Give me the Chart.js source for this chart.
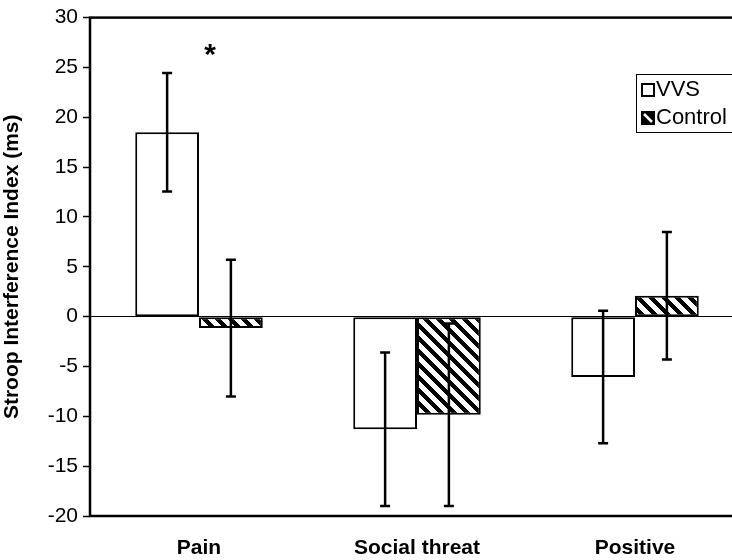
<!DOCTYPE html>
<html>
<head>
<meta charset="utf-8">
<script src="https://cdn.jsdelivr.net/npm/chart.js@4.4.0/dist/chart.umd.min.js"></script>
<style>
  html, body { margin: 0; padding: 0; overflow: hidden; background: #fff; }
  #wrap { width: 760px; height: 560px; }
</style>
</head>
<body>
<div id="wrap"><canvas id="stroopCanvas" width="760" height="560"></canvas></div>
<script>
const categories = ["Pain", "Social threat", "Positive"];
const vvsValues = [18.5, -11.3, -6.05];
const vvsErrors = [5.95, 7.7, 6.65];
const controlValues = [-1.15, -9.85, 2.1];
const controlErrors = [6.85, 9.15, 6.4];
const yTicks = [30, 25, 20, 15, 10, 5, 0, -5, -10, -15, -20];
const seriesNames = ["VVS", "Control"];

const FONT = "'Liberation Sans', Arial, sans-serif";

// diagonal hatch for the control bars
function makeHatch() {
    const s = 13, t = 6;
    const c = document.createElement("canvas");
    c.width = s; c.height = s;
    const g = c.getContext("2d");
    g.fillStyle = "#fff";
    g.fillRect(0, 0, s, s);
    g.fillStyle = "#000";
    for (let y = 0; y < s; y++) {
        for (let x = 0; x < s; x++) {
            if (((x - y) % s + s) % s < t) g.fillRect(x, y, 1, 1);
        }
    }
    return document.getElementById("stroopCanvas").getContext("2d").createPattern(c, "repeat");
}
const hatch = makeHatch();

const errorBars = {
    id: "errorBars",
    afterDatasetsDraw(chart) {
        const ctx = chart.ctx;
        const yScale = chart.scales.y;
        ctx.save();
        ctx.strokeStyle = "#000";
        ctx.lineWidth = 2.5;
        chart.data.datasets.forEach((ds, i) => {
            const meta = chart.getDatasetMeta(i);
            meta.data.forEach((bar, j) => {
                const v = ds.data[j], e = ds.errors[j];
                const top = yScale.getPixelForValue(v + e);
                const bot = yScale.getPixelForValue(v - e);
                const x = bar.x;
                ctx.beginPath();
                ctx.moveTo(x, top); ctx.lineTo(x, bot);
                ctx.moveTo(x - 5, top); ctx.lineTo(x + 5, top);
                ctx.moveTo(x - 5, bot); ctx.lineTo(x + 5, bot);
                ctx.stroke();
            });
        });
        ctx.restore();
    }
};

const frameAndLegend = {
    id: "frameAndLegend",
    afterDraw(chart) {
        const ctx = chart.ctx;
        const a = chart.chartArea;
        ctx.save();
        // plot frame
        ctx.strokeStyle = "#000";
        ctx.lineWidth = 2.5;
        ctx.strokeRect(a.left, a.top, a.right - a.left, a.bottom - a.top);

        // significance star
        const xs = chart.scales.x, ys = chart.scales.y;
        ctx.fillStyle = "#000";
        ctx.font = "bold 30px " + FONT;
        ctx.textAlign = "center";
        ctx.textBaseline = "middle";
        ctx.fillText("*", xs.getPixelForValue(0) + 11, ys.getPixelForValue(26.2));

        // legend
        const lx = a.right - 108, ly = 74;
        ctx.lineWidth = 1;
        ctx.strokeRect(lx + 0.5, ly + 0.5, 140, 58);
        ctx.font = "22px " + FONT;
        ctx.textAlign = "left";
        ctx.textBaseline = "middle";
        // VVS icon
        ctx.fillStyle = "#fff";
        ctx.fillRect(lx + 6, ly + 10, 12, 12);
        ctx.lineWidth = 2;
        ctx.strokeRect(lx + 6, ly + 10, 12, 12);
        ctx.fillStyle = "#000";
        ctx.fillText(seriesNames[0], lx + 20, ly + 16);
        // Control icon
        ctx.fillRect(lx + 5, ly + 37, 14, 14);
        ctx.strokeStyle = "#fff";
        ctx.lineWidth = 2.5;
        ctx.beginPath();
        ctx.moveTo(lx + 8, ly + 40);
        ctx.lineTo(lx + 16, ly + 48);
        ctx.stroke();
        ctx.fillText(seriesNames[1], lx + 20, ly + 44);
        ctx.restore();
    }
};

new Chart(document.getElementById("stroopCanvas"), {
    type: "bar",
    data: {
        labels: categories,
        datasets: [
            {
                label: seriesNames[0],
                data: vvsValues,
                errors: vvsErrors,
                backgroundColor: "#fff",
                borderColor: "#000",
                borderWidth: 2,
                borderSkipped: false
            },
            {
                label: seriesNames[1],
                data: controlValues,
                errors: controlErrors,
                backgroundColor: hatch,
                borderColor: "#000",
                borderWidth: 2,
                borderSkipped: false
            }
        ]
    },
    options: {
        responsive: false,
        animation: false,
        layout: { padding: { top: 16, right: 16, left: 0, bottom: 0 } },
        categoryPercentage: 0.585,
        barPercentage: 1,
        plugins: {
            legend: { display: false },
            tooltip: { enabled: false }
        },
        scales: {
            x: {
                grid: { display: false, drawTicks: false },
                border: { display: false },
                ticks: {
                    color: "#000",
                    padding: 20,
                    font: { family: FONT, size: 21, weight: "bold" }
                },
                afterFit(scale) { scale.height = 44; }
            },
            y: {
                min: -20,
                max: 30,
                afterBuildTicks(scale) {
                    scale.ticks = yTicks.map(v => ({ value: v }));
                },
                grid: {
                    color: ctx => ctx.tick && ctx.tick.value === 0 ? "#000" : "rgba(0,0,0,0)",
                    lineWidth: 1,
                    tickColor: "#000",
                    tickLength: 7,
                    tickWidth: 1.5
                },
                border: { display: false },
                ticks: {
                    color: "#000",
                    padding: 5,
                    font: { family: FONT, size: 21 }
                },
                title: {
                    display: true,
                    text: "Stroop Interference Index (ms)",
                    color: "#000",
                    padding: { top: 0, bottom: 2 },
                    font: { family: FONT, size: 21, weight: "bold" }
                },
                afterFit(scale) { scale.width = 90; }
            }
        }
    },
    plugins: [errorBars, frameAndLegend]
});
</script>
</body>
</html>
